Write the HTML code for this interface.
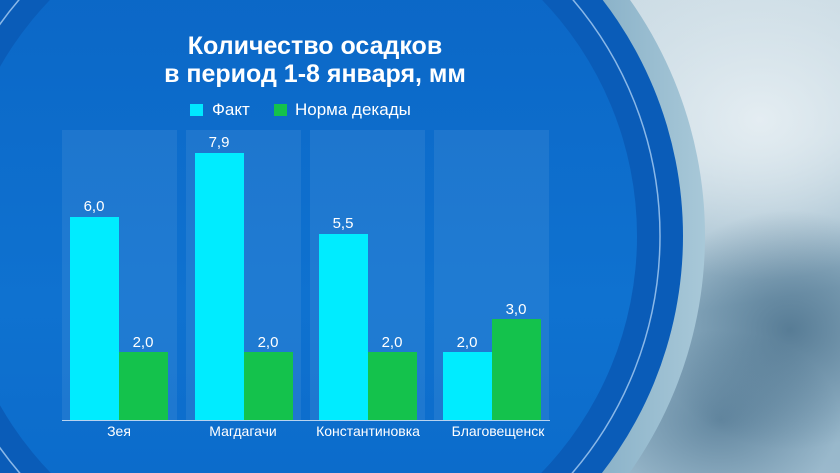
<!DOCTYPE html>
<html style="width:840px;height:473px;overflow:hidden"><head><meta charset="utf-8"><style>
*{margin:0;padding:0;box-sizing:border-box}
body{width:840px;height:473px;overflow:hidden;position:relative;font-family:"Liberation Sans","DejaVu Sans",sans-serif;color:#fff}
#w{position:absolute;left:0;top:0;width:840px;height:473px;overflow:hidden;
background:radial-gradient(ellipse 140px 120px at 790px 330px,rgba(40,80,110,.55),transparent),radial-gradient(ellipse 120px 90px at 720px 420px,rgba(50,90,120,.5),transparent),radial-gradient(ellipse 200px 160px at 760px 120px,#e4edf2,transparent),linear-gradient(170deg,#d2e0e8 0%,#c3d6e0 45%,#8fb0c4 70%,#9ab9cc 100%);background-repeat:no-repeat;}
.a{position:absolute}
.lbl{position:absolute;font-size:15px;text-align:center;width:60px}
.cat{position:absolute;font-size:14px;text-align:center;width:130px;top:423px}
</style></head><body><div id="w">
<svg class="a" style="left:0;top:0" width="840" height="473" viewBox="0 0 840 473">
<defs>
<linearGradient id="s" x1="0" x2="1"><stop offset="0" stop-color="#8fb8d0"/><stop offset=".6" stop-color="#b8d4e2"/><stop offset=".8" stop-color="#7aa6c0"/><stop offset="1" stop-color="#a8c8d8"/></linearGradient>
<linearGradient id="b" x1="0" x2="0" y1="0" y2="1"><stop offset="0" stop-color="#0a64c4"/><stop offset=".6" stop-color="#0f72d0"/><stop offset="1" stop-color="#0a68c8"/></linearGradient>
</defs>
<circle cx="296" cy="236" r="409" fill="url(#s)"/>
<circle cx="296" cy="236" r="387" fill="#0a5cb8"/>
<circle cx="296" cy="236" r="364" fill="none" stroke="#8ab8e8" stroke-width="1.5"/>
<circle cx="296" cy="236" r="341" fill="url(#b)"/>
</svg>
<div class="a" style="left:62px;top:130px;width:115px;height:290px;background:rgba(255,255,255,.07)"></div>
<div class="a" style="left:186px;top:130px;width:115px;height:290px;background:rgba(255,255,255,.07)"></div>
<div class="a" style="left:310px;top:130px;width:115px;height:290px;background:rgba(255,255,255,.07)"></div>
<div class="a" style="left:434px;top:130px;width:115px;height:290px;background:rgba(255,255,255,.07)"></div>
<div class="a" style="left:0;top:32px;width:630px;text-align:center;font-weight:bold;font-size:25px;line-height:28px">Количество осадков<br>в период 1-8 января, мм</div>
<div class="a" style="left:190px;top:104px;width:13px;height:12px;background:#00e8ff"></div>
<div class="a" style="left:212px;top:100px;font-size:17px">Факт</div>
<div class="a" style="left:274px;top:104px;width:13px;height:12px;background:#14c24c"></div>
<div class="a" style="left:295px;top:100px;font-size:17px">Норма декады</div>

<div class="a" style="left:70px;top:217px;width:49px;height:203px;background:#00ecff"></div>
<div class="a" style="left:119px;top:352px;width:49px;height:68px;background:#14c24c"></div>
<div class="a" style="left:195px;top:153px;width:49px;height:267px;background:#00ecff"></div>
<div class="a" style="left:244px;top:352px;width:49px;height:68px;background:#14c24c"></div>
<div class="a" style="left:319px;top:234px;width:49px;height:186px;background:#00ecff"></div>
<div class="a" style="left:368px;top:352px;width:49px;height:68px;background:#14c24c"></div>
<div class="a" style="left:443px;top:352px;width:49px;height:68px;background:#00ecff"></div>
<div class="a" style="left:492px;top:319px;width:49px;height:101px;background:#14c24c"></div>
<div class="a" style="left:62px;top:420px;width:488px;height:1px;background:#b8d4f0"></div>

<div class="lbl" style="left:64px;top:198px">6,0</div>
<div class="lbl" style="left:113px;top:334px">2,0</div>
<div class="lbl" style="left:189px;top:134px">7,9</div>
<div class="lbl" style="left:238px;top:334px">2,0</div>
<div class="lbl" style="left:313px;top:215px">5,5</div>
<div class="lbl" style="left:362px;top:334px">2,0</div>
<div class="lbl" style="left:437px;top:334px">2,0</div>
<div class="lbl" style="left:486px;top:301px">3,0</div>

<div class="cat" style="left:54px">Зея</div>
<div class="cat" style="left:178px">Магдагачи</div>
<div class="cat" style="left:303px">Константиновка</div>
<div class="cat" style="left:433px">Благовещенск</div>
</div></body></html>
